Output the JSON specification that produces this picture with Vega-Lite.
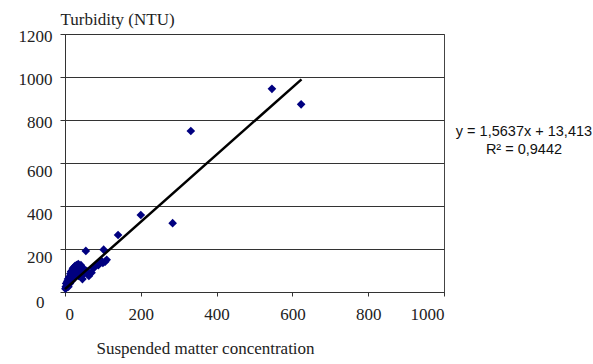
{
  "$schema": "https://vega.github.io/schema/vega-lite/v6.json",
  "autosize": {"type": "none"},
  "padding": {"left": 65, "top": 34, "right": 149, "bottom": 72},
  "width": 379,
  "height": 258,
  "background": "white",
  "config": {
    "view": {"stroke": "#444", "strokeWidth": 1}
  },
  "datasets": {
    "points": [
      {"ssc": 546, "ntu": 945}, {"ssc": 623, "ntu": 873}, {"ssc": 332, "ntu": 749}, {"ssc": 284, "ntu": 320},
      {"ssc": 200, "ntu": 358}, {"ssc": 140, "ntu": 265}, {"ssc": 55, "ntu": 191}, {"ssc": 102, "ntu": 197},
      {"ssc": 106, "ntu": 141}, {"ssc": 96, "ntu": 145}, {"ssc": 110, "ntu": 150}, {"ssc": 100, "ntu": 135},
      {"ssc": 1, "ntu": 15}, {"ssc": 2, "ntu": 25}, {"ssc": 3, "ntu": 40}, {"ssc": 4, "ntu": 20},
      {"ssc": 5, "ntu": 30}, {"ssc": 6, "ntu": 50}, {"ssc": 7, "ntu": 35}, {"ssc": 8, "ntu": 60},
      {"ssc": 9, "ntu": 25}, {"ssc": 10, "ntu": 45}, {"ssc": 11, "ntu": 70}, {"ssc": 12, "ntu": 55},
      {"ssc": 13, "ntu": 40}, {"ssc": 14, "ntu": 85}, {"ssc": 15, "ntu": 65}, {"ssc": 16, "ntu": 95},
      {"ssc": 17, "ntu": 50}, {"ssc": 18, "ntu": 75}, {"ssc": 19, "ntu": 100}, {"ssc": 20, "ntu": 60},
      {"ssc": 21, "ntu": 110}, {"ssc": 22, "ntu": 85}, {"ssc": 23, "ntu": 70}, {"ssc": 24, "ntu": 115},
      {"ssc": 25, "ntu": 95}, {"ssc": 26, "ntu": 120}, {"ssc": 28, "ntu": 80}, {"ssc": 29, "ntu": 105},
      {"ssc": 30, "ntu": 125}, {"ssc": 31, "ntu": 90}, {"ssc": 33, "ntu": 110}, {"ssc": 35, "ntu": 130},
      {"ssc": 36, "ntu": 75}, {"ssc": 38, "ntu": 115}, {"ssc": 40, "ntu": 100}, {"ssc": 42, "ntu": 125},
      {"ssc": 44, "ntu": 90}, {"ssc": 46, "ntu": 60}, {"ssc": 48, "ntu": 110}, {"ssc": 50, "ntu": 85},
      {"ssc": 55, "ntu": 100}, {"ssc": 60, "ntu": 95}, {"ssc": 63, "ntu": 75}, {"ssc": 70, "ntu": 90},
      {"ssc": 75, "ntu": 110}, {"ssc": 80, "ntu": 120}, {"ssc": 88, "ntu": 125}, {"ssc": 92, "ntu": 140}
    ],
    "trend": [
      {"ssc": 0, "ntu": 13.413},
      {"ssc": 624, "ntu": 989.2}
    ],
    "equation": [
      {"ssc": 1211, "ntu": 745, "label": "y = 1,5637x + 13,413"},
      {"ssc": 1211, "ntu": 660, "label": "R² = 0,9442"}
    ]
  },
  "layer": [
    {
      "data": {"name": "points"},
      "mark": {"type": "point", "shape": "diamond", "filled": true, "size": 75, "color": "#000080", "opacity": 1},
      "encoding": {
        "x": {
          "field": "ssc", "type": "quantitative",
          "scale": {"domain": [0, 1000], "nice": false},
          "axis": {
            "values": [0, 200, 400, 600, 800, 1000], "grid": false, "format": "d",
            "labelFont": "Liberation Serif", "labelFontSize": 17, "labelColor": "#222",
            "labelPadding": 10, "tickSize": 4, "tickColor": "#333", "domainColor": "#333",
            "title": "Suspended matter concentration",
            "titleFont": "Liberation Serif", "titleFontSize": 17, "titleFontWeight": "normal", "titleColor": "#222",
            "titleAnchor": "start", "titleAlign": "left", "titleX": 31, "titleY": 61, "titleBaseline": "alphabetic"
          }
        },
        "y": {
          "field": "ntu", "type": "quantitative",
          "scale": {"domain": [0, 1200], "nice": false},
          "axis": {
            "values": [0, 200, 400, 600, 800, 1000, 1200], "format": "d",
            "grid": true, "gridColor": "#333", "gridOpacity": 1, "gridWidth": 1,
            "labelFont": "Liberation Serif", "labelFontSize": 17, "labelColor": "#222",
            "labelPadding": {"expr": "datum.value == 0 ? 16 : 8"},
            "labelOffset": {"expr": "datum.value >= 800 ? 2 : (datum.value == 0 ? 10 : 8)"},
            "tickSize": 5, "tickColor": "#333", "domainColor": "#333",
            "title": "Turbidity (NTU)", "titleAngle": 0,
            "titleFont": "Liberation Serif", "titleFontSize": 17, "titleFontWeight": "normal", "titleColor": "#222",
            "titleAlign": "left", "titleBaseline": "alphabetic", "titleX": -5, "titleY": -10
          }
        }
      }
    },
    {
      "data": {"name": "trend"},
      "mark": {"type": "line", "color": "#000", "strokeWidth": 2.5},
      "encoding": {
        "x": {"field": "ssc", "type": "quantitative"},
        "y": {"field": "ntu", "type": "quantitative"}
      }
    },
    {
      "data": {"name": "equation"},
      "mark": {"type": "text", "font": "Liberation Sans", "fontSize": 14.5, "color": "#111", "align": "center", "baseline": "middle"},
      "encoding": {
        "x": {"field": "ssc", "type": "quantitative"},
        "y": {"field": "ntu", "type": "quantitative"},
        "text": {"field": "label"}
      }
    }
  ]
}
